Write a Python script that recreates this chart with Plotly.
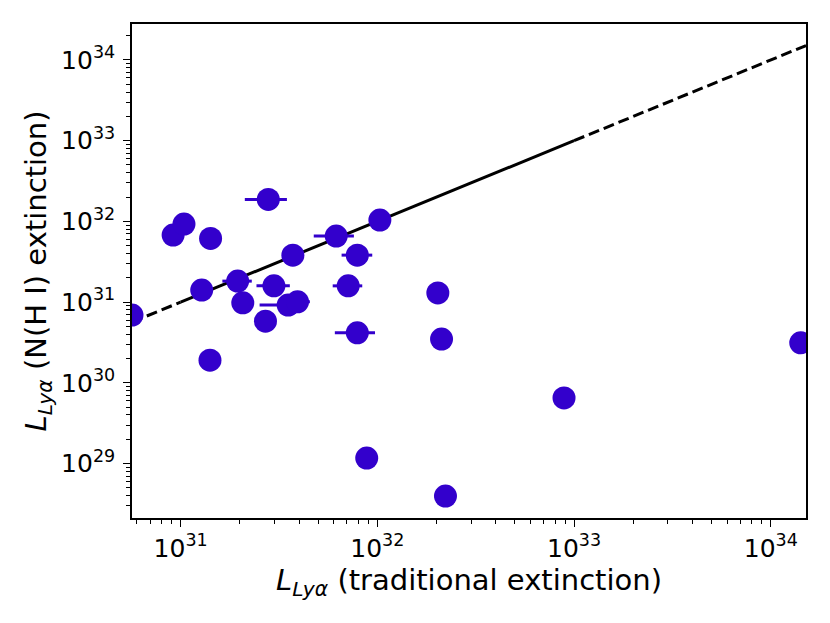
import numpy as np
import plotly.graph_objects as go

# Data (luminosities, erg/s)
l_trad = [5.66e30, 9.16e30, 1.04e31, 1.42e31, 1.28e31, 1.41e31, 1.95e31, 2.07e31,
          2.70e31, 2.79e31, 2.98e31, 3.52e31, 3.93e31, 3.72e31, 6.18e31, 1.03e32,
          7.91e31, 7.11e31, 7.91e31, 2.03e32, 2.12e32, 8.89e32, 8.83e31, 2.22e32,
          1.42e34]
l_nhi = [6.9e30, 6.76e31, 9.27e31, 6.15e31, 1.41e31, 1.91e30, 1.82e31, 9.8e30,
         5.81e30, 1.87e32, 1.59e31, 9.19e30, 1.01e31, 3.82e31, 6.58e31, 1.04e32,
         3.82e31, 1.59e31, 4.16e30, 1.30e31, 3.48e30, 6.5e29, 1.17e29, 3.96e28,
         3.13e30]
xerr_minus = [0, 0, 0, 0, 0, 0, 0.32e31, 0, 0, 0.67e31, 0.55e31, 1.0e31, 0.53e31, 0,
              1.43e31, 0, 1.33e31, 1.18e31, 1.83e31, 0, 0, 0, 0, 0, 0]
xerr_plus = [0, 0, 0, 0, 0, 0, 0.35e31, 0, 0, 0.68e31, 0.61e31, 0.5e31, 0.61e31, 0,
             1.42e31, 0, 1.51e31, 1.27e31, 1.82e31, 0, 0, 0, 0, 0, 0]

# tick labels
x_tick_exp = [31, 32, 33, 34]
y_tick_exp = [29, 30, 31, 32, 33, 34]

# one-to-one line: solid over the central span, dashed beyond it
x_min, x_max = 5.66e30, 1.51e34
solid_x = [1e31, 1e33]
dash_lo_x = [x_min, 1e31]
dash_hi_x = [1e33, x_max]

y_min, y_max = 2.115e28, 2.79e34

col = "#3300cc"
font_fam = "DejaVu Sans, sans-serif"

fig = go.Figure()
fig.add_trace(go.Scatter(x=solid_x, y=solid_x, mode="lines",
                         line=dict(color="black", width=3), showlegend=False))
for seg in (dash_lo_x, dash_hi_x):
    fig.add_trace(go.Scatter(x=seg, y=seg, mode="lines",
                             line=dict(color="black", width=3, dash="11px,5px"),
                             showlegend=False))
fig.add_trace(go.Scatter(
    x=l_trad, y=l_nhi, mode="markers",
    marker=dict(color=col, size=23, line=dict(width=0)),
    error_x=dict(type="data", array=xerr_plus, arrayminus=xerr_minus,
                 color=col, thickness=3, width=0, symmetric=False),
    showlegend=False))


def minor_vals(lo, hi):
    v = []
    for k in range(lo, hi + 1):
        for m in range(2, 10):
            v.append(m * 10.0 ** k)
    return v


def tick_vals(exps):
    return [10.0 ** e for e in exps]


def tick_text(exps):
    return ["10<sup>%d</sup>" % e for e in exps]


axis_common = dict(
    type="log", showgrid=False, zeroline=False, automargin=False,
    showline=True, linecolor="black", linewidth=1.6, mirror=True,
    ticks="outside", ticklen=7, tickwidth=1.4, tickcolor="black",
    tickmode="array",
    tickfont=dict(family=font_fam, size=25, color="black"),
)

fig.update_xaxes(
    **axis_common,
    tickvals=tick_vals(x_tick_exp), ticktext=tick_text(x_tick_exp),
    range=[np.log10(x_min), np.log10(x_max)],
    minor=dict(ticks="outside", ticklen=4, tickwidth=1, tickcolor="black",
               tickmode="array", tickvals=minor_vals(30, 34), showgrid=False),
    title=dict(text="<i>L</i><sub><i>Lyα</i></sub> (traditional extinction)",
               font=dict(family=font_fam, size=29, color="black"), standoff=4),
)
fig.update_yaxes(
    **axis_common,
    tickvals=tick_vals(y_tick_exp), ticktext=tick_text(y_tick_exp),
    range=[np.log10(y_min), np.log10(y_max)],
    minor=dict(ticks="outside", ticklen=4, tickwidth=1, tickcolor="black",
               tickmode="array", tickvals=minor_vals(28, 34), showgrid=False),
    ticklabelstandoff=3,
    title=dict(text="<i>L</i><sub><i>Lyα</i></sub> (N(H I) extinction)",
               font=dict(family=font_fam, size=29, color="black"), standoff=6),
)

# page body adds an 8px offset, so margins are shifted to compensate
fig.update_layout(
    template="none",
    width=830, height=623,
    margin=dict(l=124, r=32, t=16, b=113, autoexpand=False),
    plot_bgcolor="white", paper_bgcolor="white",
    font=dict(family=font_fam, color="black"),
)

fig.write_html("out.html")
